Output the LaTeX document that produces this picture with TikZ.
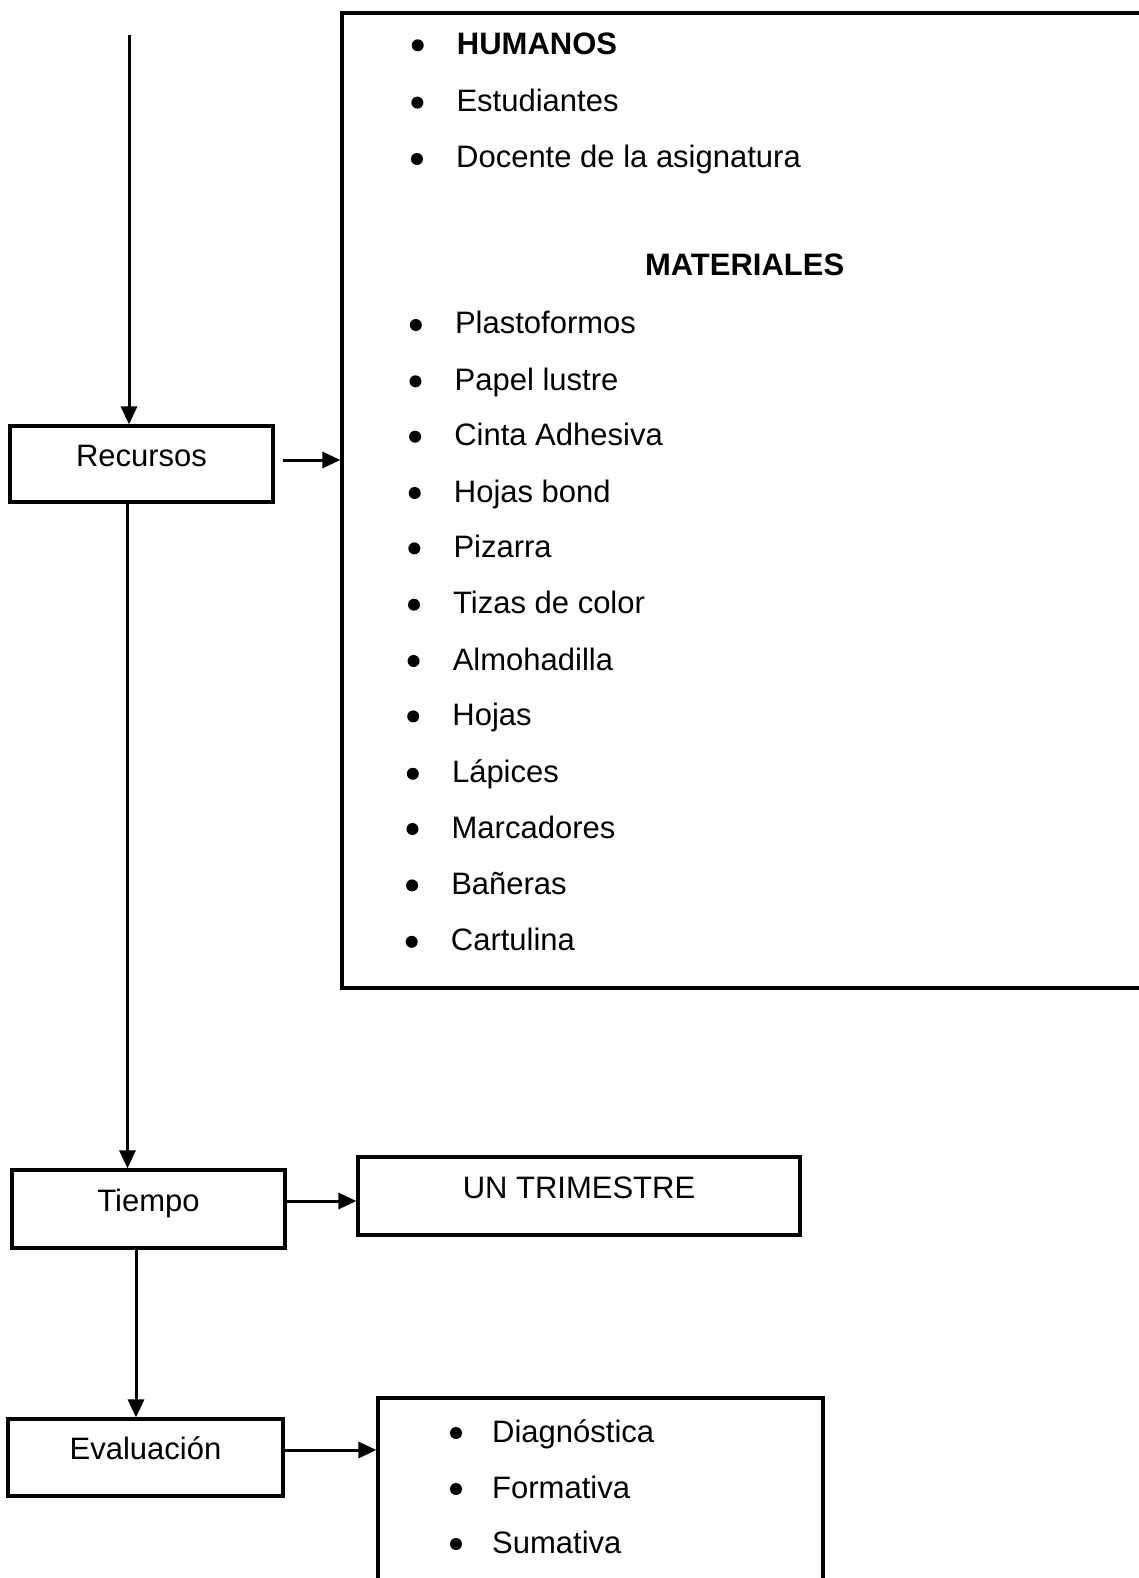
\documentclass[tikz,border=0pt]{standalone}
\usepackage{fontspec}
\setmainfont{Liberation Sans}
\usetikzlibrary{arrows.meta}

\tikzset{
    caja/.style={draw, line width=3.2pt, inner sep=0pt, text height=23pt, text depth=19pt},
    flecha/.style={line width=3pt, -{Triangle[length=18pt,width=16pt]}},
    item/.style={anchor=west, inner sep=0pt, text height=22pt, text depth=0pt},
}

\begin{document}
\begin{tikzpicture}[x=1pt, y=-1pt, font=\fontsize{31}{37}\selectfont]
    \useasboundingbox (0,0) rectangle (1139,1578);
    % cajas
    \node [caja, minimum width=263pt, minimum height=76pt] (rec) at (141.5,464) {Recursos};
    \node [caja, minimum width=273pt, minimum height=78pt] (tie) at (148.5,1209) {Tiempo};
    \node [caja, minimum width=275pt, minimum height=77pt] (eva) at (145.5,1457.5) {Evaluación};
    \node [caja, minimum width=830pt, minimum height=975pt] (mat) at (757,500.5) {};
    \node [caja, minimum width=442pt, minimum height=78pt] (tri) at (579,1196) {UN TRIMESTRE};
    \node [caja, minimum width=445pt, minimum height=262pt] (tip) at (600.5,1529) {};
    % flechas
    \coordinate (ini) at (129,35);
    \draw [flecha] (ini) -- (ini |- rec.north);
    \draw [flecha, shorten <=8pt] ([yshift=4pt]rec.east) -- ([yshift=4pt]rec.east -| mat.west);
    \draw [flecha] ([xshift=-14pt]rec.south) -- ([xshift=-14pt]rec.south |- tie.north);
    \draw [flecha] ([yshift=8pt]tie.east) -- ([yshift=8pt]tie.east -| tri.west);
    \draw [flecha] ([xshift=-12.5pt]tie.south) -- ([xshift=-12.5pt]tie.south |- eva.north);
    \draw [flecha] ([yshift=7.5pt]eva.east) -- ([yshift=7.5pt]eva.east -| tip.west);
    % recursos
    \foreach \y/\t [count=\i] in {43.3/{\bfseries HUMANOS}, 100.6/Estudiantes, 157/Docente de la asignatura,
        323/Plastoformos, 379.3/Papel lustre, 434.7/Cinta Adhesiva, 491/Hojas bond, 546.4/Pizarra,
        602.7/Tizas de color, 659/Almohadilla, 714.4/Hojas, 771.8/Lápices, 827/Marcadores,
        883.4/Bañeras, 939.8/Cartulina} {
        \fill (418-0.0067*\y,\y+2) circle (6pt);
        \node [item] (r\i) at (457-0.0067*\y,\y) {\t};
    }
    \node [item, anchor=center, font=\fontsize{31}{37}\selectfont\bfseries] (mtit) at (744.6,264.6) {MATERIALES};
    % evaluacion
    \foreach \y/\t [count=\i] in {1431/Diagnóstica, 1487/Formativa, 1542/Sumativa} {
        \fill (456,\y+2) circle (6pt);
        \node [item] (e\i) at (492,\y) {\t};
    }
\end{tikzpicture}
\end{document}
